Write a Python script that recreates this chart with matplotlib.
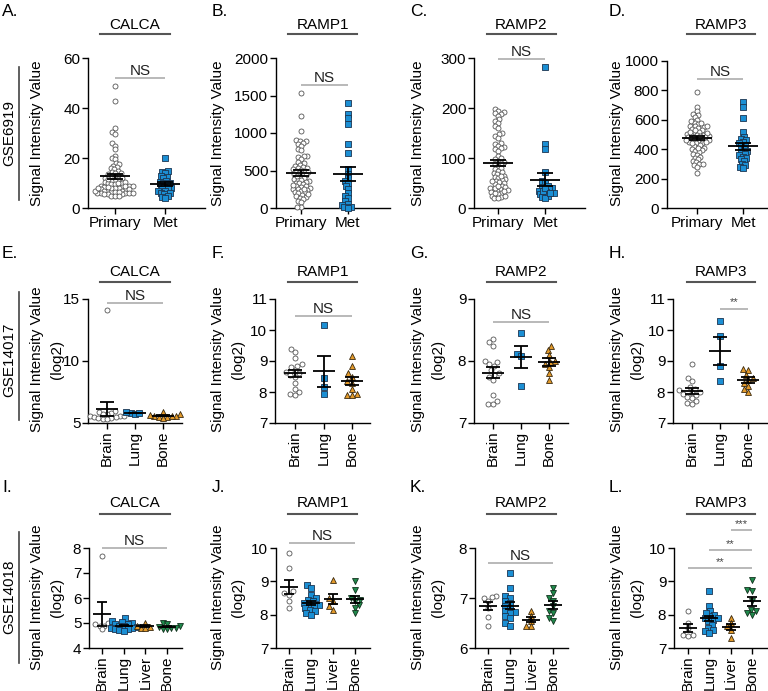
import numpy as np
import matplotlib
matplotlib.use('Agg')
import matplotlib.pyplot as plt
from matplotlib.lines import Line2D

plt.rcParams['font.family'] = ['Liberation Sans', 'DejaVu Sans']

W, H = 768, 691

# ---------------- data ----------------
groups_2 = ['Primary', 'Met']
groups_3 = ['Brain', 'Lung', 'Bone']
groups_4 = ['Brain', 'Lung', 'Liver', 'Bone']
genes = ['CALCA', 'RAMP1', 'RAMP2', 'RAMP3']
datasets = ['GSE6919', 'GSE14017', 'GSE14018']

# GSE6919 (signal intensity)
a_primary = [49, 43, 32, 30.5, 29.5, 26, 25, 23.5, 21, 20, 19.5, 18, 17.5, 17, 16.5, 16, 15.5, 15,
             14.5, 14, 14, 13.5, 13, 13, 12.5, 12, 12, 11.5, 11, 11, 10.5, 10, 10, 9.5, 9.5, 9, 9,
             8.5, 8.5, 8, 8, 7.5, 7.5, 7, 7, 7, 6.5, 6.5, 6, 6, 6, 5.5, 5.5, 5, 5, 10.5, 11.5, 9,
             8, 7.5, 6, 5.5, 7, 8, 9, 6.5, 5, 8.5, 10, 6]
a_met = [20, 15, 14.5, 14, 13, 12.5, 12, 11, 10.5, 10, 10, 9.5, 9, 8.5, 8, 8, 7.5, 7, 7, 6, 6,
         5.5, 5, 4.5, 4]
b_primary = [1530, 1230, 1030, 910, 900, 890, 870, 850, 830, 790, 770, 700, 690, 680, 660, 610,
             600, 580, 560, 550, 540, 530, 520, 510, 500, 490, 480, 460, 450, 440, 420, 400, 390,
             380, 370, 360, 350, 340, 330, 320, 300, 290, 280, 270, 260, 250, 240, 230, 220, 210,
             200, 180, 160, 150, 140, 120, 100, 80, 20, 20, 470, 430, 310, 260, 190]
b_met = [1400, 1250, 1200, 1120, 860, 730, 520, 450, 400, 360, 330, 290, 250, 200, 160, 130, 90,
         60, 40, 20, 10, 0]
c_primary = [198, 195, 192, 190, 188, 185, 178, 175, 170, 165, 160, 150, 148, 145, 140, 130, 128,
             125, 122, 120, 118, 115, 105, 100, 98, 95, 92, 90, 88, 85, 80, 78, 75, 72, 70, 68, 65,
             62, 60, 58, 56, 55, 52, 50, 48, 45, 42, 40, 38, 36, 35, 33, 30, 28, 25, 22, 20, 25,
             30, 40, 45, 55, 65, 20, 35]
c_met = [282, 128, 118, 72, 55, 50, 45, 42, 40, 38, 35, 33, 30, 28, 27, 25, 22, 20, 35, 40, 30]
d_primary = [790, 690, 660, 640, 630, 620, 600, 590, 580, 570, 560, 555, 550, 545, 540, 530, 520,
             510, 505, 500, 495, 490, 485, 480, 475, 470, 465, 460, 455, 450, 445, 440, 430, 420,
             410, 400, 395, 390, 380, 370, 360, 350, 340, 330, 320, 310, 300, 290, 280, 235, 500,
             510, 480, 460, 520, 470, 440, 490, 530, 450, 560, 580, 410, 300]
d_met = [720, 690, 610, 520, 480, 470, 460, 450, 440, 430, 420, 400, 390, 380, 370, 360, 350,
         340, 330, 320, 300, 290, 280, 270]

# GSE14017 (log2)
e_brain = [14.1, 6.0, 5.9, 5.8, 5.7, 5.6, 5.6, 5.5, 5.5, 5.4, 5.4, 5.3, 5.3, 5.6, 5.7]
e_lung = [5.8, 5.85, 5.75, 5.8]
e_bone = [5.9, 5.7, 5.6, 5.55, 5.5, 5.6, 5.65, 5.5, 5.4]
f_brain = [9.4, 9.3, 9.1, 8.9, 8.85, 8.8, 8.7, 8.65, 8.6, 8.55, 8.5, 8.3, 8.1, 8.0, 7.95, 7.9]
f_lung = [10.15, 8.45, 8.15, 7.95]
f_bone = [9.15, 8.85, 8.6, 8.5, 8.35, 8.3, 8.1, 7.95, 7.9, 7.9]
g_brain = [8.35, 8.3, 8.25, 8.0, 7.98, 7.95, 7.92, 7.85, 7.8, 7.78, 7.75, 7.7, 7.45, 7.35, 7.3, 7.3]
g_lung = [8.45, 8.12, 8.08, 7.6]
g_bone = [8.25, 8.18, 8.1, 8.0, 7.98, 7.95, 7.9, 7.8, 7.7]
h_brain = [8.9, 8.45, 8.35, 8.15, 8.1, 8.05, 8.0, 7.98, 7.95, 7.9, 7.85, 7.8, 7.7, 7.65, 7.6]
h_lung = [10.3, 9.8, 8.85, 8.35]
h_bone = [8.75, 8.7, 8.55, 8.45, 8.4, 8.3, 8.2, 8.1, 8.0]

# GSE14018 (log2)
i_brain = [7.7, 5.0, 4.95, 4.9, 4.9, 4.75]
i_lung = [5.2, 5.1, 5.05, 5.0, 4.98, 4.95, 4.9, 4.88, 4.85, 4.82, 4.8, 4.78, 4.75, 4.72, 4.7]
i_liver = [5.0, 4.9, 4.85, 4.82, 4.8]
i_bone = [5.0, 4.95, 4.9, 4.85, 4.82, 4.8, 4.78, 4.75]
j_brain = [9.85, 9.4, 8.7, 8.65, 8.6, 8.4, 8.2]
j_lung = [8.9, 8.8, 8.6, 8.5, 8.45, 8.4, 8.35, 8.3, 8.28, 8.25, 8.2, 8.15, 8.1, 8.05, 8.0]
j_liver = [9.05, 8.5, 8.4, 8.25, 8.15]
j_bone = [9.0, 8.75, 8.5, 8.45, 8.4, 8.3, 8.2, 8.05]
k_brain = [7.05, 7.0, 7.02, 6.95, 6.8, 6.62, 6.45]
k_lung = [7.5, 7.2, 7.05, 7.0, 6.95, 6.9, 6.85, 6.8, 6.75, 6.72, 6.7, 6.65, 6.6, 6.5, 6.45]
k_liver = [6.75, 6.65, 6.55, 6.45, 6.45]
k_bone = [7.2, 7.1, 7.0, 6.95, 6.85, 6.75, 6.7, 6.6, 6.55]
l_brain = [8.1, 7.75, 7.6, 7.4, 7.38, 7.35]
l_lung = [8.7, 8.25, 8.1, 8.0, 7.95, 7.9, 7.85, 7.8, 7.7, 7.6, 7.55, 7.5, 7.45, 7.9, 8.05]
l_liver = [7.9, 7.75, 7.65, 7.55, 7.3]
l_bone = [9.05, 8.75, 8.7, 8.4, 8.15, 8.1, 8.05, 8.0]

# ---------------- styles ----------------
BLUE = '#1b8fd4'
ORANGE = '#e39a2a'
GREEN = '#1f8a4c'
circ = dict(m='o', s=13, fc='white', ec='#555555')
sq = dict(m='s', s=15, fc=BLUE, ec='#1c3550')
tri_o = dict(m='^', s=18, fc=ORANGE, ec='#3a2a10')
tri_g = dict(m='v', s=18, fc=GREEN, ec='#10301c')

FS = 11
fig = plt.figure(figsize=(W / 100, H / 100), dpi=100)


def ftext(x, y, s, **kw):
    fig.text(x / W, 1 - y / H, s, **kw)


def fline(x0, x1, y0, y1, **kw):
    fig.add_artist(Line2D([x0 / W, x1 / W], [1 - y0 / H, 1 - y1 / H], **kw))


def swarm(vals, ppu_y, d):
    # simple deterministic beeswarm, offsets in pixels
    order = np.argsort(vals)
    placed = []
    xs = np.zeros(len(vals))
    for i in order:
        y = vals[i] * ppu_y
        forb = []
        for px, py in placed:
            dy = abs(py - y)
            if dy < d:
                w = np.sqrt(d * d - dy * dy)
                forb.append((px - w, px + w))
        cands = [0.0] + [a for a, b in forb] + [b for a, b in forb]
        cands.sort(key=abs)
        for c in cands:
            if all(not (a + 1e-9 < c < b - 1e-9) for a, b in forb):
                xs[i] = c
                break
        placed.append((xs[i], y))
    return xs


def panel(box, first, dx, ylim, yticks, groups, data, styles, mean_hw, cap_hw, rot, sigs, d=5.0):
    x0, x1, yt, yb = box
    ax = fig.add_axes([x0 / W, 1 - yb / H, (x1 - x0) / W, (yb - yt) / H])
    ax.set_xlim((x0 - first) / dx, (x1 - first) / dx)
    ax.set_ylim(*ylim)
    ppu_y = (yb - yt) / (ylim[1] - ylim[0])
    for k, vals in enumerate(data):
        vals = np.asarray(vals, float)
        off = swarm(vals, ppu_y, d)
        st = styles[k]
        ax.scatter(k + off / dx, vals, marker=st['m'], s=st['s'], facecolor=st['fc'],
                   edgecolor=st['ec'], linewidth=0.6, zorder=3, clip_on=False)
        m = vals.mean()
        se = vals.std(ddof=1) / np.sqrt(len(vals))
        ax.hlines(m, k - mean_hw / dx, k + mean_hw / dx, color='k', lw=1.3, zorder=4)
        ax.vlines(k, m - se, m + se, color='k', lw=1.3, zorder=4)
        ax.hlines([m - se, m + se], k - cap_hw / dx, k + cap_hw / dx, color='k', lw=1.3, zorder=4)
    for g1, g2, y, txt in sigs:
        ax.plot([g1, g2], [y, y], color='#b3b3b3', lw=1.3, clip_on=False, solid_capstyle='butt')
        if txt == 'NS':
            ax.annotate(txt, xy=((g1 + g2) / 2, y), xytext=(0, 0), textcoords='offset points',
                        ha='center', va='bottom', fontsize=FS, color='#222222',
                        annotation_clip=False)
        else:
            ax.annotate(txt, xy=((g1 + g2) / 2, y), xytext=(0, 1), textcoords='offset points',
                        ha='center', va='bottom', fontsize=8, color='#444444',
                        annotation_clip=False)
    for s in ['top', 'right']:
        ax.spines[s].set_visible(False)
    for s in ['left', 'bottom']:
        ax.spines[s].set_linewidth(1.0)
    ax.set_xticks(range(len(groups)))
    ax.set_xticklabels(groups, rotation=90 if rot else 0)
    ax.set_yticks(yticks)
    ax.tick_params(direction='out', length=4, width=1.0, labelsize=FS, pad=1.5)
    return ax


# ---------------- row 1: GSE6919 ----------------
r1 = (58, 208)
D1 = 3.6
panel((88, 205, *r1), 115, 50, (0, 60), [0, 20, 40, 60], groups_2, [a_primary, a_met],
      [circ, sq], 15, 8, False, [(0, 1, 52, 'NS')], d=D1)
panel((276, 390, *r1), 301, 47, (0, 2000), [0, 500, 1000, 1500, 2000], groups_2,
      [b_primary, b_met], [circ, sq], 15, 8, False, [(0, 1, 1640, 'NS')], d=D1)
panel((474, 585, *r1), 498, 47, (0, 300), [0, 100, 200, 300], groups_2, [c_primary, c_met],
      [circ, sq], 15, 8, False, [(0, 1, 298, 'NS')], d=D1)
panel((667, 770, 61, 208), 697, 46, (0, 1000), [0, 200, 400, 600, 800, 1000], groups_2,
      [d_primary, d_met], [circ, sq], 15, 8, False, [(0, 1, 878, 'NS')], d=D1)

# ---------------- row 2: GSE14017 ----------------
r2 = (299, 423)
st3 = [circ, sq, tri_o]
panel((88, 182, *r2), 107, 28, (5, 15), [5, 10, 15], groups_3, [e_brain, e_lung, e_bone],
      st3, 11, 7, True, [(0, 2, 14.7, 'NS')], d=4.5)
panel((275, 370, *r2), 295, 28.5, (7, 11), [7, 8, 9, 10, 11], groups_3, [f_brain, f_lung, f_bone],
      st3, 11, 7, True, [(0, 2, 10.45, 'NS')])
panel((474, 568, *r2), 493, 28, (7, 9), [7, 8, 9], groups_3, [g_brain, g_lung, g_bone],
      st3, 11, 7, True, [(0, 2, 8.63, 'NS')])
panel((673, 768, *r2), 692, 28, (7, 11), [7, 8, 9, 10, 11], groups_3, [h_brain, h_lung, h_bone],
      st3, 11, 7, True, [(1, 2, 10.68, '**')])

# ---------------- row 3: GSE14018 ----------------
r3 = (548, 648)
st4 = [circ, sq, tri_o, tri_g]
panel((89, 182, *r3), 102, 21.7, (4, 8), [4, 5, 6, 7, 8], groups_4,
      [i_brain, i_lung, i_liver, i_bone], st4, 9, 5, True, [(0, 3, 8.0, 'NS')], d=4.5)
panel((276, 370, *r3), 289, 22, (7, 10), [7, 8, 9, 10], groups_4,
      [j_brain, j_lung, j_liver, j_bone], st4, 9, 5, True, [(0, 3, 10.15, 'NS')])
panel((475, 568, *r3), 488, 21.7, (6, 8), [6, 7, 8], groups_4,
      [k_brain, k_lung, k_liver, k_bone], st4, 9, 5, True, [(0, 3, 7.7, 'NS')])
panel((674, 768, *r3), 688, 21.3, (7, 10), [7, 8, 9, 10], groups_4,
      [l_brain, l_lung, l_liver, l_bone], st4, 9, 5, True,
      [(2, 3, 10.54, '***'), (1, 3, 9.94, '**'), (0, 3, 9.4, '**')])

# ---------------- titles, labels, letters ----------------
title_x = [(100, 170), (288, 357), (487, 556), (687, 755)]
title_y = [(25, 34), (272, 282), (503, 514)]
for (ty, ly) in title_y:
    for (xa, xb), g in zip(title_x, genes):
        ftext((xa + xb) / 2, ty, g, ha='center', va='center', fontsize=FS)
        fline(xa, xb, ly, ly, color='#555555', lw=1.5)

letters = 'ABCDEFGHIJKL'
letter_x = [2, 212, 410, 609]
letter_y = [11, 254, 488]
for r, ly in enumerate(letter_y):
    for c, lx in enumerate(letter_x):
        ftext(lx, ly, letters[r * 4 + c] + '.', ha='left', va='center', fontsize=12.5)

ylab_x = [37, 218, 418, 617]
ylab_y = [133, 359, 597]
for r, yy in enumerate(ylab_y):
    for c, xx in enumerate(ylab_x):
        ftext(xx, yy, 'Signal Intensity Value', ha='center', va='center', rotation=90,
              fontsize=FS)
        if r > 0:
            ftext(xx + 20, yy, '(log2)', ha='center', va='center', rotation=90, fontsize=FS)

gse_y = [133, 360, 597]
gse_line = [(67, 200), (292, 420), (532, 663)]
for name, yy, (la, lb) in zip(datasets, gse_y, gse_line):
    ftext(9, yy, name, ha='center', va='center', rotation=90, fontsize=FS)
    fline(19, 19, la, lb, color='#444444', lw=1.2)

fig.savefig('out.png', dpi=100)
